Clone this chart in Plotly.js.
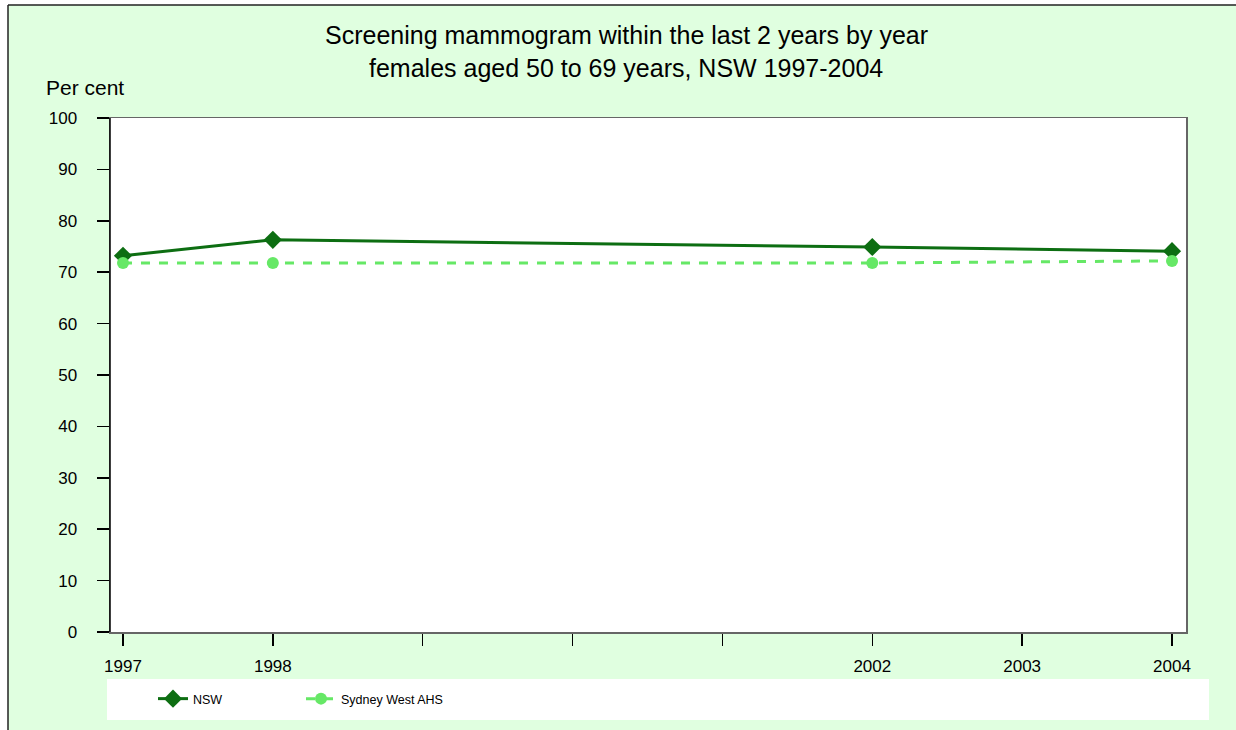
<!DOCTYPE html>
<html>
<head>
<meta charset="utf-8">
<script src="https://cdn.plot.ly/plotly-3.0.1.min.js"></script>
<style>html,body{margin:0;padding:0;background:#fff;}</style>
</head>
<body>
<div id="chart" style="width:1236px;height:730px;"></div>
<script>
const years = [1997, 1998, 2002, 2004];
const nsw = [73.2, 76.3, 74.9, 74.1];
const swahs = [71.8, 71.8, 71.8, 72.2];
const tickYears = [1997, 1998, 1999, 2000, 2001, 2002, 2003, 2004];
const tickLabels = ['1997', '1998', '', '', '', '2002', '2003', '2004'];
const titleLines = ['Screening mammogram within the last 2 years by year',
                    'females aged 50 to 69 years, NSW 1997-2004'];

const L = 110, R = 1186, T = 118, B = 632;
const W = R - L, H = B - T;
const px = v => (v - L) / W;
const py = v => (B - v) / H;

const traces = [
  {
    x: years, y: nsw, name: 'NSW', type: 'scatter', mode: 'lines+markers',
    line: {color: '#0d6e12', width: 3},
    marker: {symbol: 'diamond', size: 14, color: '#0d6e12'}
  },
  {
    x: years, y: swahs, name: 'Sydney West AHS', type: 'scatter', mode: 'lines+markers',
    line: {color: '#66e866', width: 3, dash: 'dash'},
    marker: {symbol: 'circle', size: 12, color: '#66e866'}
  }
];

const layout = {
  width: 1236, height: 730,
  margin: {l: L, r: 1236 - R, t: T, b: 730 - B, pad: 0},
  paper_bgcolor: '#e0ffe0',
  plot_bgcolor: '#ffffff',
  font: {family: 'Liberation Sans, Arial, sans-serif', color: '#000', size: 17},
  xaxis: {
    range: [1997 - 13/150, 2004 + 14/150],
    tickvals: tickYears, ticktext: tickLabels,
    ticks: 'outside', ticklen: 12, tickwidth: 1.5, tickcolor: '#000',
    showgrid: false, zeroline: false,
    showline: true, linecolor: '#666', linewidth: 1.5, mirror: true,
    tickfont: {size: 17}, ticklabelstandoff: 6, fixedrange: true
  },
  yaxis: {
    range: [0, 100], tickvals: [0,10,20,30,40,50,60,70,80,90,100],
    ticks: 'outside', ticklen: 12, tickwidth: 1.5, tickcolor: '#000',
    showgrid: false, zeroline: false,
    showline: true, linecolor: '#666', linewidth: 1.5, mirror: true,
    tickfont: {size: 17}, ticklabelstandoff: 16, fixedrange: true
  },
  showlegend: true,
  legend: {
    orientation: 'h', x: px(153), xanchor: 'left', y: py(699), yanchor: 'middle',
    bgcolor: 'rgba(0,0,0,0)', font: {size: 12.5, color: '#000'},
    entrywidth: 103, entrywidthmode: 'pixels', itemwidth: 30
  },
  annotations: [
    {text: titleLines[0], xref: 'paper', yref: 'paper', x: px(626), y: py(35),
     xanchor: 'center', yanchor: 'middle', showarrow: false, font: {size: 25, color: '#000'}},
    {text: titleLines[1], xref: 'paper', yref: 'paper', x: px(626), y: py(68),
     xanchor: 'center', yanchor: 'middle', showarrow: false, font: {size: 25, color: '#000'}},
    {text: 'Per cent', xref: 'paper', yref: 'paper', x: px(44), y: py(87),
     xanchor: 'left', yanchor: 'middle', showarrow: false, font: {size: 21, color: '#000'}}
  ],
  shapes: [
    {type: 'rect', xref: 'paper', yref: 'paper', x0: px(-5), x1: px(8), y0: py(740), y1: py(-5),
     fillcolor: '#ffffff', line: {width: 0}, layer: 'below'},
    {type: 'rect', xref: 'paper', yref: 'paper', x0: px(-5), x1: px(1240), y0: py(5), y1: py(-5),
     fillcolor: '#ffffff', line: {width: 0}, layer: 'below'},
    {type: 'line', xref: 'paper', yref: 'paper', x0: px(8), x1: px(1240), y0: py(5), y1: py(5),
     line: {color: '#222', width: 1.5}},
    {type: 'line', xref: 'paper', yref: 'paper', x0: px(8), x1: px(8), y0: py(5), y1: py(735),
     line: {color: '#222', width: 1.5}},
    {type: 'line', xref: 'paper', yref: 'paper', x0: 0, x1: 0, y0: 0, y1: 1,
     line: {color: '#000', width: 1.5}},
    {type: 'rect', xref: 'paper', yref: 'paper', x0: px(107), x1: px(1209), y0: py(720), y1: py(679),
     fillcolor: '#ffffff', line: {width: 0}, layer: 'below'}
  ]
};

Plotly.newPlot('chart', traces, layout, {displayModeBar: false, staticPlot: true});
</script>
</body>
</html>
